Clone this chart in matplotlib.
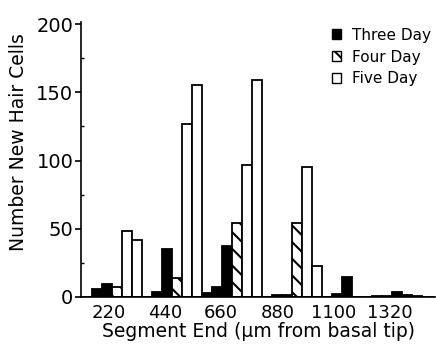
import matplotlib.pyplot as plt
import numpy as np
from matplotlib.patches import Patch

plt.rcParams['font.family'] = ['DejaVu Sans']
plt.rcParams['hatch.linewidth'] = 1.5

# segment ends (um from basal tip), one label per group of bars
segment_ends = ['220', '440', '660', '880', '1100', '1320']
# three-day counts, three sub-segments per labelled segment
three_day = [0, 6, 9.5, 0, 3.5, 35, 3, 7, 37.5, 0, 1.5, 1.5, 0, 2, 14.5, 0.5, 3.5, 1.5]
# four-day counts, one per labelled segment
four_day = [7, 14, 54, 54, 0, 0.5]
# five-day counts, two per labelled segment
five_day = [48, 42, 127, 155, 96.5, 159, 95, 23, 0, 0.5, 0, 0]

fig = plt.figure(figsize=(4.36, 3.51), dpi=100)
ax = fig.add_axes([81/436, 54/351, 354/436, 275/351])

n = len(segment_ends)
slot = 6  # bars per group
g = np.arange(n) * slot
x3 = (g[:, None] + np.arange(3)).ravel() + 0.5
x4 = g + 3.5
x5 = (g[:, None] + np.arange(4, 6)).ravel() + 0.5

kw = dict(width=1.0, edgecolor='black', linewidth=1.3)
ax.bar(x3, three_day, color='black', **kw)
ax.bar(x4, four_day, color='white', hatch='\\\\', **kw)
ax.bar(x5, five_day, color='white', **kw)

ax.set_xlim(-0.1, 35.3)
ax.set_ylim(0, 201.5)
ax.spines['top'].set_visible(False)
ax.spines['right'].set_visible(False)
ax.spines['left'].set_linewidth(1.2)
ax.spines['bottom'].set_linewidth(1.2)

ax.set_xticks(np.arange(n) * 5.63 + 2.65)
ax.set_xticklabels(segment_ends)
ax.tick_params(axis='x', length=0, pad=5, labelsize=13)
ax.set_yticks(np.arange(0, 201, 50))
ax.set_yticks(np.arange(25, 200, 50), minor=True)
ax.tick_params(axis='y', which='major', length=4, width=1.2, labelsize=14, pad=1.5)
ax.tick_params(axis='y', which='minor', length=2, width=1, direction='in')

ax.set_xlabel('Segment End (\u00b5m from basal tip)', fontsize=13.5, labelpad=0)
ax.set_ylabel('Number New Hair Cells', fontsize=13.5)
ax.yaxis.set_label_coords(-0.15, 0.565)

handles = [Patch(facecolor='black', edgecolor='black'),
           Patch(facecolor='white', edgecolor='black', hatch='\\\\'),
           Patch(facecolor='white', edgecolor='black')]
ax.legend(handles, ['Three Day', 'Four Day', 'Five Day'], loc='upper left',
          bbox_to_anchor=(324/436, 1 - 20/351), bbox_transform=fig.transFigure,
          frameon=False, fontsize=11, handlelength=0.6, handleheight=0.6,
          handletextpad=0.7, labelspacing=0.45, borderpad=0)

fig.savefig('out.png', dpi=100)
